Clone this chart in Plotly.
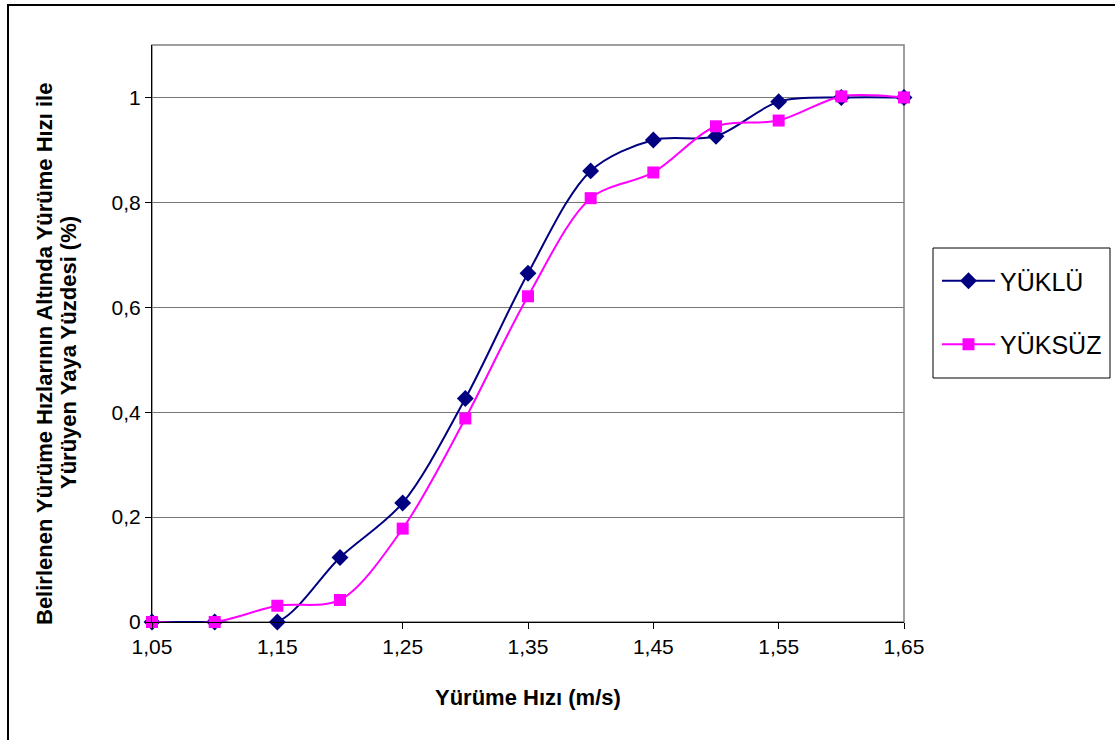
import plotly.graph_objects as go

# Walking speed thresholds (m/s)
speeds = [1.05, 1.10, 1.15, 1.20, 1.25, 1.30, 1.35, 1.40, 1.45, 1.50, 1.55, 1.60, 1.65]

# Share of pedestrians walking below each threshold
yuklu = [0.0, 0.0, 0.0, 0.123, 0.227, 0.426, 0.665, 0.860, 0.919, 0.926, 0.992, 1.0, 1.0]
yuksuz = [0.0, 0.0, 0.031, 0.042, 0.178, 0.388, 0.621, 0.808, 0.857, 0.945, 0.956, 1.002, 1.0]

x_ticks = [1.05, 1.15, 1.25, 1.35, 1.45, 1.55, 1.65]
x_tick_text = ["1,05", "1,15", "1,25", "1,35", "1,45", "1,55", "1,65"]
y_ticks = [0, 0.2, 0.4, 0.6, 0.8, 1.0]
y_tick_text = ["0", "0,2", "0,4", "0,6", "0,8", "1"]

FONT = "Liberation Sans, Arial, sans-serif"

fig = go.Figure()
fig.add_trace(go.Scatter(
    x=speeds, y=yuklu, name="YÜKLÜ", mode="lines+markers",
    line=dict(color="#000080", width=2, shape="spline", smoothing=0.9),
    marker=dict(symbol="diamond", size=13, color="#000080"),
    cliponaxis=False, legendgroup="a",
))
fig.add_trace(go.Scatter(
    x=speeds, y=yuksuz, name="YÜKSÜZ", mode="lines+markers",
    line=dict(color="#FF00FF", width=2, shape="spline", smoothing=0.9),
    marker=dict(symbol="square", size=12, color="#FF00FF"),
    cliponaxis=False, legendgroup="b",
))

L, R, T, B = 152, 1115 - 904, 45, 740 - 622
pw, ph = 904 - L, 622 - T


def px_x(v):
    return (v - L) / pw


def px_y(v):
    return (622 - v) / ph


fig.update_layout(
    width=1115, height=740,
    margin=dict(l=L, r=R, t=T, b=B, autoexpand=False),
    paper_bgcolor="white", plot_bgcolor="white",
    font=dict(family=FONT, size=21, color="black"),
    showlegend=True,
    legend=dict(
        x=px_x(937), y=px_y(258), xanchor="left", yanchor="top",
        borderwidth=0, bgcolor="rgba(0,0,0,0)",
        font=dict(size=25), traceorder="grouped", tracegroupgap=28,
        itemwidth=53,
    ),
    xaxis=dict(
        range=[1.05, 1.65], tickvals=x_ticks, ticktext=x_tick_text,
        showgrid=False, zeroline=False, showline=True, linecolor="black",
        linewidth=1, ticks="outside", ticklen=6, tickcolor="black",
        tickfont=dict(size=21), automargin=False,
    ),
    yaxis=dict(
        range=[0, 1.1], tickvals=y_ticks, ticktext=y_tick_text,
        showgrid=True, gridcolor="#767676", gridwidth=1, zeroline=False,
        showline=True, linecolor="black", linewidth=1, ticks="outside",
        ticklen=6, tickcolor="black", tickfont=dict(size=21), automargin=False,
    ),
    shapes=[
        # grey frame around the plot area
        dict(type="rect", xref="paper", yref="paper", x0=0, x1=1, y0=0, y1=1,
             line=dict(color="#808080", width=1.5), layer="below"),
        # outer chart border
        dict(type="rect", xref="paper", yref="paper",
             x0=px_x(8), x1=2.0, y0=-1.0, y1=px_y(5),
             line=dict(color="black", width=2)),
        # legend box
        dict(type="rect", xref="paper", yref="paper",
             x0=px_x(933), x1=px_x(1110), y0=px_y(378), y1=px_y(248),
             line=dict(color="black", width=1)),
    ],
    annotations=[
        dict(text="<b>Yürüme Hızı (m/s)</b>", xref="paper", yref="paper",
             x=0.5, y=px_y(697), showarrow=False,
             font=dict(size=22), xanchor="center", yanchor="middle"),
        dict(text="<b>Belirlenen Yürüme Hızlarının Altında Yürüme Hızı ile</b>",
             xref="paper", yref="paper", x=px_x(45), y=px_y(354),
             textangle=-90, showarrow=False, font=dict(size=22),
             xanchor="center", yanchor="middle"),
        dict(text="<b>Yürüyen Yaya Yüzdesi (%)</b>",
             xref="paper", yref="paper", x=px_x(69), y=px_y(353),
             textangle=-90, showarrow=False, font=dict(size=22),
             xanchor="center", yanchor="middle"),
    ],
)

fig.write_html("out.html")
